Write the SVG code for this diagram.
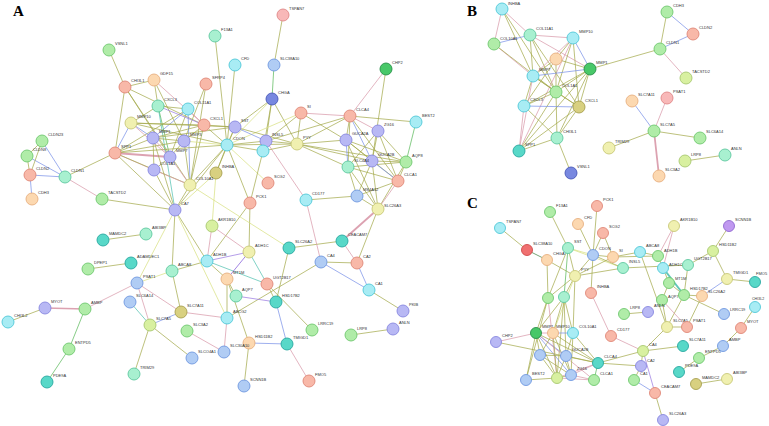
<svg xmlns="http://www.w3.org/2000/svg" width="769" height="426" viewBox="0 0 769 426">
<style>
.c line{stroke-width:.8;stroke-opacity:.9;stroke-linecap:round}
.o{stroke:#a3a84a}
.p{stroke:#d898a8;stroke-width:1.1}
.b{stroke:#7890e8;stroke-width:1.6}
.g{stroke:#58b858;stroke-width:1.6}
.v{stroke:#9878e0;stroke-width:1.8}
.t{stroke:#50c0b0;stroke-width:1.2}
.y{stroke:#d8e080;stroke-width:.6}
circle{stroke-width:.9}
.gr{fill:#b0eca8;stroke:#70c870}
.mi{fill:#a8f0d0;stroke:#60c8a0}
.cy{fill:#a8ecf4;stroke:#50c8d8}
.sa{fill:#f8b8a8;stroke:#e08878}
.pe{fill:#fcd8b0;stroke:#e8b080}
.ye{fill:#f0f0b0;stroke:#c8c878}
.pu{fill:#b8b8f4;stroke:#8888e0}
.bl{fill:#b0ccf4;stroke:#7098e0}
.db{fill:#7888e0;stroke:#4858b8}
.dg{fill:#48c868;stroke:#289048}
.te{fill:#58d8c8;stroke:#28a8a0}
.ol{fill:#d8d080;stroke:#a8a050}
.rd{fill:#f07070;stroke:#d04848}
.pk{fill:#f8b8b8;stroke:#e08888}
.yg{fill:#d8f0a0;stroke:#a8c870}
.mg{fill:#c098f0;stroke:#9068d0}
.l{font-family:"Liberation Sans",Arial,sans-serif;font-size:4px;fill:#333}
.h{font-family:"Liberation Serif","Times New Roman",serif;font-weight:bold;font-size:15px;fill:#000}
</style>
<rect width="769" height="426" fill="#fff"/>
<text class="h" x="13" y="16">A</text>
<text class="h" x="467" y="16">B</text>
<text class="h" x="467" y="208">C</text>
<g id="connectors" class="c">
<line class="o" x1="109" y1="50" x2="125" y2="87"/>
<line class="o" x1="125" y1="87" x2="154" y2="80"/>
<line class="o" x1="125" y1="87" x2="115" y2="153"/>
<line class="o" x1="125" y1="87" x2="170" y2="157"/>
<line class="o" x1="125" y1="87" x2="204" y2="125"/>
<line class="o" x1="125" y1="87" x2="190" y2="185"/>
<line class="p" x1="154" y1="80" x2="204" y2="125"/>
<line class="o" x1="154" y1="80" x2="184" y2="141"/>
<line class="o" x1="154" y1="80" x2="158" y2="106"/>
<line class="o" x1="215" y1="36" x2="227" y2="145"/>
<line class="o" x1="235" y1="65" x2="227" y2="145"/>
<line class="o" x1="206" y1="84" x2="184" y2="141"/>
<line class="o" x1="206" y1="84" x2="190" y2="185"/>
<line class="o" x1="283" y1="15" x2="274" y2="65"/>
<line class="g" x1="274" y1="65" x2="272" y2="99"/>
<line class="o" x1="272" y1="99" x2="235" y2="127"/>
<line class="o" x1="272" y1="99" x2="266" y2="141"/>
<line class="o" x1="272" y1="99" x2="263" y2="151"/>
<line class="o" x1="272" y1="99" x2="297" y2="144"/>
<line class="y" x1="272" y1="99" x2="227" y2="145"/>
<line class="p" x1="386" y1="69" x2="350" y2="116"/>
<line class="o" x1="386" y1="69" x2="372" y2="161"/>
<line class="p" x1="188" y1="109" x2="204" y2="125"/>
<line class="b" x1="188" y1="109" x2="153" y2="138"/>
<line class="o" x1="188" y1="109" x2="158" y2="106"/>
<line class="b" x1="188" y1="109" x2="190" y2="185"/>
<line class="o" x1="188" y1="109" x2="115" y2="153"/>
<line class="o" x1="188" y1="109" x2="170" y2="157"/>
<line class="g" x1="158" y1="106" x2="170" y2="157"/>
<line class="v" x1="158" y1="106" x2="204" y2="125"/>
<line class="o" x1="158" y1="106" x2="131" y2="123"/>
<line class="t" x1="158" y1="106" x2="175" y2="210"/>
<line class="b" x1="131" y1="123" x2="115" y2="153"/>
<line class="b" x1="131" y1="123" x2="153" y2="138"/>
<line class="p" x1="131" y1="123" x2="170" y2="157"/>
<line class="o" x1="131" y1="123" x2="204" y2="125"/>
<line class="o" x1="131" y1="123" x2="235" y2="127"/>
<line class="o" x1="131" y1="123" x2="227" y2="145"/>
<line class="o" x1="115" y1="153" x2="153" y2="138"/>
<line class="o" x1="115" y1="153" x2="184" y2="141"/>
<line class="p" x1="115" y1="153" x2="170" y2="157" style="stroke-width:2"/>
<line class="p" x1="115" y1="153" x2="154" y2="170"/>
<line class="o" x1="115" y1="153" x2="65" y2="177"/>
<line class="o" x1="115" y1="153" x2="175" y2="210"/>
<line class="o" x1="115" y1="153" x2="190" y2="185"/>
<line class="o" x1="115" y1="153" x2="227" y2="145"/>
<line class="o" x1="153" y1="138" x2="184" y2="141"/>
<line class="p" x1="153" y1="138" x2="170" y2="157"/>
<line class="o" x1="153" y1="138" x2="154" y2="170"/>
<line class="o" x1="153" y1="138" x2="204" y2="125"/>
<line class="o" x1="153" y1="138" x2="235" y2="127"/>
<line class="o" x1="184" y1="141" x2="170" y2="157"/>
<line class="o" x1="184" y1="141" x2="204" y2="125"/>
<line class="y" x1="184" y1="141" x2="227" y2="145"/>
<line class="o" x1="184" y1="141" x2="190" y2="185"/>
<line class="o" x1="170" y1="157" x2="154" y2="170"/>
<line class="p" x1="170" y1="157" x2="190" y2="185"/>
<line class="p" x1="154" y1="170" x2="190" y2="185"/>
<line class="o" x1="154" y1="170" x2="175" y2="210"/>
<line class="o" x1="204" y1="125" x2="235" y2="127"/>
<line class="o" x1="204" y1="125" x2="227" y2="145"/>
<line class="o" x1="204" y1="125" x2="190" y2="185"/>
<line class="o" x1="227" y1="145" x2="235" y2="127"/>
<line class="o" x1="227" y1="145" x2="266" y2="141"/>
<line class="o" x1="227" y1="145" x2="263" y2="151"/>
<line class="o" x1="227" y1="145" x2="297" y2="144"/>
<line class="o" x1="227" y1="145" x2="250" y2="203"/>
<line class="o" x1="227" y1="145" x2="216" y2="173"/>
<line class="o" x1="227" y1="145" x2="190" y2="185"/>
<line class="o" x1="227" y1="145" x2="175" y2="210"/>
<line class="y" x1="227" y1="145" x2="301" y2="113"/>
<line class="y" x1="227" y1="145" x2="268" y2="183"/>
<line class="b" x1="235" y1="127" x2="266" y2="141"/>
<line class="o" x1="235" y1="127" x2="297" y2="144"/>
<line class="o" x1="266" y1="141" x2="263" y2="151"/>
<line class="o" x1="266" y1="141" x2="297" y2="144"/>
<line class="o" x1="266" y1="141" x2="301" y2="113"/>
<line class="p" x1="266" y1="141" x2="306" y2="200"/>
<line class="o" x1="266" y1="141" x2="350" y2="116"/>
<line class="o" x1="263" y1="151" x2="297" y2="144"/>
<line class="o" x1="263" y1="151" x2="250" y2="203"/>
<line class="o" x1="297" y1="144" x2="301" y2="113"/>
<line class="o" x1="297" y1="144" x2="350" y2="116"/>
<line class="o" x1="297" y1="144" x2="346" y2="140"/>
<line class="o" x1="297" y1="144" x2="406" y2="162"/>
<line class="o" x1="297" y1="144" x2="372" y2="161"/>
<line class="o" x1="297" y1="144" x2="348" y2="167"/>
<line class="p" x1="301" y1="113" x2="350" y2="116"/>
<line class="o" x1="301" y1="113" x2="346" y2="140"/>
<line class="p" x1="350" y1="116" x2="378" y2="131"/>
<line class="o" x1="350" y1="116" x2="416" y2="122"/>
<line class="o" x1="350" y1="116" x2="346" y2="140"/>
<line class="b" x1="350" y1="116" x2="372" y2="161"/>
<line class="o" x1="350" y1="116" x2="398" y2="181"/>
<line class="o" x1="350" y1="116" x2="348" y2="167"/>
<line class="o" x1="378" y1="131" x2="406" y2="162"/>
<line class="o" x1="378" y1="131" x2="398" y2="181"/>
<line class="o" x1="378" y1="131" x2="372" y2="161"/>
<line class="o" x1="378" y1="131" x2="348" y2="167"/>
<line class="o" x1="346" y1="140" x2="372" y2="161"/>
<line class="b" x1="346" y1="140" x2="348" y2="167"/>
<line class="o" x1="346" y1="140" x2="398" y2="181"/>
<line class="o" x1="346" y1="140" x2="406" y2="162"/>
<line class="o" x1="346" y1="140" x2="378" y2="209"/>
<line class="o" x1="372" y1="161" x2="406" y2="162"/>
<line class="b" x1="372" y1="161" x2="398" y2="181"/>
<line class="o" x1="372" y1="161" x2="378" y2="209"/>
<line class="o" x1="372" y1="161" x2="357" y2="196"/>
<line class="o" x1="348" y1="167" x2="406" y2="162"/>
<line class="o" x1="348" y1="167" x2="357" y2="196"/>
<line class="o" x1="348" y1="167" x2="378" y2="209"/>
<line class="o" x1="348" y1="167" x2="398" y2="181"/>
<line class="g" x1="416" y1="122" x2="406" y2="162"/>
<line class="o" x1="406" y1="162" x2="398" y2="181"/>
<line class="o" x1="406" y1="162" x2="378" y2="209"/>
<line class="p" x1="398" y1="181" x2="378" y2="209"/>
<line class="o" x1="398" y1="181" x2="357" y2="196"/>
<line class="o" x1="357" y1="196" x2="378" y2="209"/>
<line class="o" x1="306" y1="200" x2="357" y2="196"/>
<line class="p" x1="378" y1="209" x2="342" y2="241" style="stroke-width:1.8"/>
<line class="o" x1="378" y1="209" x2="357" y2="263"/>
<line class="o" x1="342" y1="241" x2="289" y2="248"/>
<line class="p" x1="342" y1="241" x2="357" y2="263"/>
<line class="o" x1="321" y1="262" x2="357" y2="263"/>
<line class="b" x1="321" y1="262" x2="369" y2="290"/>
<line class="b" x1="357" y1="263" x2="369" y2="290"/>
<line class="p" x1="306" y1="200" x2="321" y2="262"/>
<line class="o" x1="321" y1="262" x2="227" y2="318"/>
<line class="o" x1="369" y1="290" x2="403" y2="311"/>
<line class="o" x1="351" y1="335" x2="393" y2="329"/>
<line class="o" x1="250" y1="203" x2="249" y2="252"/>
<line class="o" x1="250" y1="203" x2="207" y2="261"/>
<line class="p" x1="212" y1="226" x2="207" y2="261"/>
<line class="p" x1="212" y1="226" x2="249" y2="252"/>
<line class="y" x1="216" y1="173" x2="212" y2="226"/>
<line class="v" x1="207" y1="261" x2="249" y2="252"/>
<line class="o" x1="207" y1="261" x2="227" y2="279"/>
<line class="t" x1="207" y1="261" x2="267" y2="284"/>
<line class="o" x1="207" y1="261" x2="172" y2="271"/>
<line class="o" x1="207" y1="261" x2="175" y2="210"/>
<line class="v" x1="249" y1="252" x2="227" y2="279" style="stroke-width:1"/>
<line class="t" x1="249" y1="252" x2="267" y2="284"/>
<line class="y" x1="190" y1="185" x2="289" y2="248"/>
<line class="o" x1="289" y1="248" x2="276" y2="302"/>
<line class="o" x1="267" y1="284" x2="276" y2="302"/>
<line class="o" x1="267" y1="284" x2="312" y2="330"/>
<line class="v" x1="236" y1="296" x2="276" y2="302"/>
<line class="o" x1="227" y1="279" x2="236" y2="296"/>
<line class="b" x1="276" y1="302" x2="287" y2="344"/>
<line class="b" x1="249" y1="343" x2="287" y2="344"/>
<line class="o" x1="249" y1="343" x2="244" y2="386"/>
<line class="o" x1="249" y1="343" x2="227" y2="279"/>
<line class="p" x1="287" y1="344" x2="309" y2="381"/>
<line class="o" x1="227" y1="279" x2="227" y2="318"/>
<line class="p" x1="227" y1="318" x2="224" y2="352"/>
<line class="p" x1="227" y1="318" x2="181" y2="312"/>
<line class="b" x1="181" y1="312" x2="150" y2="325"/>
<line class="o" x1="181" y1="312" x2="172" y2="271"/>
<line class="p" x1="181" y1="312" x2="137" y2="283"/>
<line class="p" x1="150" y1="325" x2="137" y2="283"/>
<line class="t" x1="150" y1="325" x2="130" y2="302"/>
<line class="o" x1="150" y1="325" x2="134" y2="374"/>
<line class="o" x1="150" y1="325" x2="192" y2="358"/>
<line class="p" x1="187" y1="331" x2="224" y2="352"/>
<line class="p" x1="137" y1="283" x2="85" y2="309"/>
<line class="y" x1="137" y1="283" x2="172" y2="271"/>
<line class="y" x1="175" y1="210" x2="137" y2="283"/>
<line class="p" x1="85" y1="309" x2="45" y2="308" style="stroke-width:1.6"/>
<line class="o" x1="45" y1="308" x2="8" y2="322"/>
<line class="g" x1="85" y1="309" x2="69" y2="349"/>
<line class="g" x1="69" y1="349" x2="47" y2="382"/>
<line class="o" x1="131" y1="263" x2="88" y2="269"/>
<line class="o" x1="103" y1="240" x2="146" y2="234"/>
<line class="o" x1="172" y1="271" x2="175" y2="210"/>
<line class="b" x1="65" y1="177" x2="42" y2="141"/>
<line class="b" x1="65" y1="177" x2="27" y2="156"/>
<line class="b" x1="65" y1="177" x2="30" y2="175"/>
<line class="o" x1="42" y1="141" x2="27" y2="156"/>
<line class="o" x1="42" y1="141" x2="30" y2="175"/>
<line class="o" x1="27" y1="156" x2="30" y2="175"/>
<line class="b" x1="30" y1="175" x2="32" y2="199"/>
<line class="p" x1="65" y1="177" x2="102" y2="199"/>
<line class="o" x1="102" y1="199" x2="175" y2="210"/>
<line class="o" x1="175" y1="210" x2="190" y2="185"/>
<line class="o" x1="175" y1="210" x2="153" y2="138"/>
<line class="y" x1="175" y1="210" x2="216" y2="173"/>
<line class="o" x1="216" y1="173" x2="235" y2="127"/>
<line class="y" x1="175" y1="210" x2="227" y2="318"/>
<line class="p" x1="502" y1="9" x2="530" y2="35"/>
<line class="p" x1="502" y1="9" x2="494" y2="44"/>
<line class="o" x1="502" y1="9" x2="533" y2="76"/>
<line class="o" x1="502" y1="9" x2="556" y2="92"/>
<line class="b" x1="530" y1="35" x2="494" y2="44"/>
<line class="p" x1="530" y1="35" x2="573" y2="38"/>
<line class="o" x1="530" y1="35" x2="533" y2="76"/>
<line class="o" x1="530" y1="35" x2="556" y2="92"/>
<line class="o" x1="530" y1="35" x2="579" y2="107"/>
<line class="p" x1="530" y1="35" x2="590" y2="69"/>
<line class="p" x1="494" y1="44" x2="533" y2="76"/>
<line class="o" x1="494" y1="44" x2="556" y2="92"/>
<line class="o" x1="573" y1="38" x2="556" y2="59"/>
<line class="b" x1="573" y1="38" x2="590" y2="69"/>
<line class="p" x1="573" y1="38" x2="533" y2="76"/>
<line class="o" x1="573" y1="38" x2="556" y2="92"/>
<line class="o" x1="573" y1="38" x2="579" y2="107"/>
<line class="p" x1="573" y1="38" x2="519" y2="151"/>
<line class="o" x1="556" y1="59" x2="533" y2="76"/>
<line class="o" x1="556" y1="59" x2="590" y2="69"/>
<line class="o" x1="556" y1="59" x2="556" y2="92"/>
<line class="o" x1="556" y1="59" x2="524" y2="106"/>
<line class="b" x1="590" y1="69" x2="533" y2="76"/>
<line class="o" x1="590" y1="69" x2="556" y2="92"/>
<line class="o" x1="590" y1="69" x2="579" y2="107"/>
<line class="o" x1="590" y1="69" x2="524" y2="106"/>
<line class="o" x1="590" y1="69" x2="660" y2="49"/>
<line class="o" x1="590" y1="69" x2="557" y2="138"/>
<line class="o" x1="590" y1="69" x2="519" y2="151"/>
<line class="o" x1="533" y1="76" x2="556" y2="92"/>
<line class="o" x1="533" y1="76" x2="524" y2="106"/>
<line class="o" x1="533" y1="76" x2="579" y2="107"/>
<line class="p" x1="533" y1="76" x2="519" y2="151"/>
<line class="o" x1="556" y1="92" x2="579" y2="107"/>
<line class="o" x1="556" y1="92" x2="524" y2="106"/>
<line class="o" x1="556" y1="92" x2="557" y2="138"/>
<line class="o" x1="556" y1="92" x2="519" y2="151"/>
<line class="b" x1="524" y1="106" x2="579" y2="107"/>
<line class="p" x1="524" y1="106" x2="519" y2="151"/>
<line class="o" x1="524" y1="106" x2="557" y2="138"/>
<line class="o" x1="579" y1="107" x2="519" y2="151"/>
<line class="o" x1="579" y1="107" x2="557" y2="138"/>
<line class="o" x1="557" y1="138" x2="519" y2="151"/>
<line class="o" x1="557" y1="138" x2="571" y2="173"/>
<line class="o" x1="667" y1="12" x2="660" y2="49"/>
<line class="b" x1="667" y1="12" x2="693" y2="34"/>
<line class="b" x1="693" y1="34" x2="660" y2="49"/>
<line class="p" x1="660" y1="49" x2="686" y2="78"/>
<line class="b" x1="632" y1="101" x2="654" y2="131"/>
<line class="p" x1="667" y1="98" x2="654" y2="131"/>
<line class="o" x1="654" y1="131" x2="700" y2="138"/>
<line class="o" x1="654" y1="131" x2="609" y2="148"/>
<line class="p" x1="654" y1="131" x2="659" y2="176" style="stroke-width:1.8"/>
<line class="o" x1="685" y1="161" x2="725" y2="155"/>
<line class="o" x1="500" y1="228" x2="527" y2="250"/>
<line class="g" x1="527" y1="250" x2="547" y2="260" style="stroke:#408040"/>
<line class="o" x1="547" y1="260" x2="575" y2="276"/>
<line class="o" x1="547" y1="260" x2="548" y2="298"/>
<line class="o" x1="550" y1="212" x2="568" y2="248"/>
<line class="o" x1="568" y1="248" x2="575" y2="276"/>
<line class="g" x1="568" y1="248" x2="564" y2="297"/>
<line class="o" x1="568" y1="248" x2="548" y2="298"/>
<line class="y" x1="568" y1="248" x2="593" y2="255"/>
<line class="y" x1="568" y1="248" x2="623" y2="268"/>
<line class="o" x1="597" y1="206" x2="593" y2="255"/>
<line class="o" x1="578" y1="224" x2="593" y2="255"/>
<line class="o" x1="603" y1="233" x2="593" y2="255"/>
<line class="o" x1="603" y1="233" x2="613" y2="257"/>
<line class="o" x1="593" y1="255" x2="613" y2="257"/>
<line class="o" x1="593" y1="255" x2="575" y2="276"/>
<line class="o" x1="593" y1="255" x2="591" y2="293"/>
<line class="o" x1="593" y1="255" x2="623" y2="268"/>
<line class="o" x1="613" y1="257" x2="640" y2="252"/>
<line class="o" x1="613" y1="257" x2="658" y2="256"/>
<line class="o" x1="613" y1="257" x2="575" y2="276"/>
<line class="o" x1="575" y1="276" x2="623" y2="268"/>
<line class="o" x1="575" y1="276" x2="564" y2="297"/>
<line class="o" x1="575" y1="276" x2="548" y2="298"/>
<line class="o" x1="575" y1="276" x2="573" y2="333"/>
<line class="y" x1="575" y1="276" x2="553" y2="333"/>
<line class="p" x1="591" y1="293" x2="611" y2="336"/>
<line class="p" x1="611" y1="336" x2="643" y2="351"/>
<line class="o" x1="640" y1="252" x2="658" y2="256"/>
<line class="o" x1="640" y1="252" x2="667" y2="327"/>
<line class="p" x1="658" y1="256" x2="674" y2="226"/>
<line class="o" x1="658" y1="256" x2="663" y2="268"/>
<line class="p" x1="663" y1="268" x2="674" y2="226"/>
<line class="t" x1="663" y1="268" x2="684" y2="295" style="stroke-width:2"/>
<line class="o" x1="663" y1="268" x2="669" y2="283"/>
<line class="o" x1="623" y1="268" x2="688" y2="265"/>
<line class="o" x1="688" y1="265" x2="713" y2="251"/>
<line class="o" x1="688" y1="265" x2="684" y2="295"/>
<line class="o" x1="729" y1="226" x2="713" y2="251"/>
<line class="o" x1="713" y1="251" x2="727" y2="279"/>
<line class="o" x1="727" y1="279" x2="755" y2="282"/>
<line class="b" x1="727" y1="279" x2="702" y2="296"/>
<line class="o" x1="684" y1="295" x2="702" y2="296"/>
<line class="o" x1="684" y1="295" x2="724" y2="314"/>
<line class="o" x1="684" y1="295" x2="667" y2="327"/>
<line class="o" x1="684" y1="295" x2="669" y2="283"/>
<line class="o" x1="702" y1="296" x2="687" y2="327"/>
<line class="o" x1="669" y1="283" x2="662" y2="300"/>
<line class="p" x1="662" y1="300" x2="687" y2="327"/>
<line class="o" x1="662" y1="300" x2="667" y2="327"/>
<line class="o" x1="667" y1="327" x2="687" y2="327"/>
<line class="o" x1="667" y1="327" x2="643" y2="351"/>
<line class="o" x1="683" y1="346" x2="643" y2="351"/>
<line class="o" x1="643" y1="351" x2="641" y2="366"/>
<line class="o" x1="643" y1="351" x2="598" y2="363"/>
<line class="v" x1="643" y1="351" x2="655" y2="393"/>
<line class="o" x1="641" y1="366" x2="634" y2="380"/>
<line class="o" x1="641" y1="366" x2="598" y2="363"/>
<line class="b" x1="634" y1="380" x2="655" y2="393"/>
<line class="o" x1="655" y1="393" x2="663" y2="420"/>
<line class="o" x1="624" y1="314" x2="648" y2="312"/>
<line class="o" x1="755" y1="307" x2="741" y2="328"/>
<line class="o" x1="741" y1="328" x2="723" y2="346"/>
<line class="o" x1="723" y1="346" x2="699" y2="358"/>
<line class="o" x1="699" y1="358" x2="679" y2="372"/>
<line class="o" x1="696" y1="384" x2="727" y2="379"/>
<line class="o" x1="548" y1="298" x2="536" y2="333"/>
<line class="o" x1="564" y1="297" x2="536" y2="333"/>
<line class="o" x1="564" y1="297" x2="553" y2="333"/>
<line class="o" x1="564" y1="297" x2="557" y2="378"/>
<line class="o" x1="564" y1="297" x2="566" y2="356"/>
<line class="p" x1="548" y1="298" x2="557" y2="378"/>
<line class="o" x1="564" y1="297" x2="573" y2="333"/>
<line class="p" x1="536" y1="333" x2="553" y2="333"/>
<line class="p" x1="536" y1="333" x2="496" y2="342"/>
<line class="o" x1="536" y1="333" x2="540" y2="355"/>
<line class="b" x1="536" y1="333" x2="566" y2="356"/>
<line class="b" x1="536" y1="333" x2="571" y2="375"/>
<line class="o" x1="536" y1="333" x2="557" y2="378"/>
<line class="o" x1="536" y1="333" x2="598" y2="363"/>
<line class="o" x1="536" y1="333" x2="526" y2="380"/>
<line class="p" x1="536" y1="333" x2="594" y2="380"/>
<line class="b" x1="553" y1="333" x2="573" y2="333"/>
<line class="o" x1="553" y1="333" x2="540" y2="355"/>
<line class="o" x1="553" y1="333" x2="571" y2="375"/>
<line class="o" x1="553" y1="333" x2="557" y2="378"/>
<line class="o" x1="553" y1="333" x2="598" y2="363"/>
<line class="o" x1="573" y1="333" x2="566" y2="356"/>
<line class="o" x1="573" y1="333" x2="571" y2="375"/>
<line class="o" x1="573" y1="333" x2="598" y2="363"/>
<line class="o" x1="496" y1="342" x2="598" y2="363"/>
<line class="o" x1="540" y1="355" x2="557" y2="378"/>
<line class="o" x1="540" y1="355" x2="571" y2="375"/>
<line class="o" x1="540" y1="355" x2="566" y2="356"/>
<line class="o" x1="566" y1="356" x2="571" y2="375"/>
<line class="o" x1="566" y1="356" x2="598" y2="363"/>
<line class="o" x1="566" y1="356" x2="557" y2="378"/>
<line class="o" x1="571" y1="375" x2="557" y2="378"/>
<line class="p" x1="571" y1="375" x2="598" y2="363"/>
<line class="p" x1="571" y1="375" x2="594" y2="380"/>
<line class="o" x1="557" y1="378" x2="526" y2="380"/>
<line class="p" x1="557" y1="378" x2="594" y2="380"/>
<line class="p" x1="557" y1="378" x2="598" y2="363"/>
<line class="g" x1="598" y1="363" x2="594" y2="380"/>
<line class="o" x1="548" y1="298" x2="526" y2="380"/>
</g>
<g id="A-VSNL1"><circle class="gr" cx="109" cy="50" r="6"/><text class="l" x="115" y="45">VSNL1</text></g>
<g id="A-F13A1"><circle class="mi" cx="215" cy="36" r="6"/><text class="l" x="221" y="31">F13A1</text></g>
<g id="A-TSPAN7"><circle class="pk" cx="283" cy="15" r="6"/><text class="l" x="289" y="10">TSPAN7</text></g>
<g id="A-CFD"><circle class="cy" cx="235" cy="65" r="6"/><text class="l" x="241" y="60">CFD</text></g>
<g id="A-SLC38A10"><circle class="bl" cx="274" cy="65" r="6"/><text class="l" x="280" y="60">SLC38A10</text></g>
<g id="A-CHGA"><circle class="db" cx="272" cy="99" r="6"/><text class="l" x="278" y="94">CHGA</text></g>
<g id="A-CHP2"><circle class="dg" cx="386" cy="69" r="6"/><text class="l" x="392" y="64">CHP2</text></g>
<g id="A-GDF15"><circle class="pe" cx="154" cy="80" r="6"/><text class="l" x="160" y="75">GDF15</text></g>
<g id="A-CHI3L1"><circle class="sa" cx="125" cy="87" r="6"/><text class="l" x="131" y="82">CHI3L1</text></g>
<g id="A-SFRP4"><circle class="sa" cx="206" cy="84" r="6"/><text class="l" x="212" y="79">SFRP4</text></g>
<g id="A-CXCL3"><circle class="mi" cx="158" cy="106" r="6"/><text class="l" x="164" y="101">CXCL3</text></g>
<g id="A-COL11A1"><circle class="cy" cx="188" cy="109" r="6"/><text class="l" x="194" y="104">COL11A1</text></g>
<g id="A-CXCL1"><circle class="sa" cx="204" cy="125" r="6"/><text class="l" x="210" y="120">CXCL1</text></g>
<g id="A-MMP10"><circle class="ye" cx="131" cy="123" r="6"/><text class="l" x="137" y="118">MMP10</text></g>
<g id="A-SST"><circle class="pu" cx="235" cy="127" r="6"/><text class="l" x="241" y="122">SST</text></g>
<g id="A-MMP1"><circle class="pu" cx="153" cy="138" r="6"/><text class="l" x="159" y="133">MMP1</text></g>
<g id="A-MMP3"><circle class="pu" cx="184" cy="141" r="6"/><text class="l" x="190" y="136">MMP3</text></g>
<g id="A-MMP7"><circle class="pu" cx="170" cy="157" r="6"/><text class="l" x="176" y="152">MMP7</text></g>
<g id="A-COL1A1"><circle class="pu" cx="154" cy="170" r="6"/><text class="l" x="160" y="165">COL1A1</text></g>
<g id="A-SPP1"><circle class="sa" cx="115" cy="153" r="6"/><text class="l" x="121" y="148">SPP1</text></g>
<g id="A-CDON"><circle class="cy" cx="227" cy="145" r="6"/><text class="l" x="233" y="140">CDON</text></g>
<g id="A-INHBA"><circle class="ol" cx="216" cy="173" r="6"/><text class="l" x="222" y="168">INHBA</text></g>
<g id="A-COL10A1"><circle class="ye" cx="190" cy="185" r="6"/><text class="l" x="196" y="180">COL10A1</text></g>
<g id="A-CA7"><circle class="pu" cx="175" cy="210" r="6"/><text class="l" x="181" y="205">CA7</text></g>
<g id="A-CLDN23"><circle class="gr" cx="42" cy="141" r="6"/><text class="l" x="48" y="136">CLDN23</text></g>
<g id="A-CLDN8"><circle class="gr" cx="27" cy="156" r="6"/><text class="l" x="33" y="151">CLDN8</text></g>
<g id="A-CLDN2"><circle class="sa" cx="30" cy="175" r="6"/><text class="l" x="36" y="170">CLDN2</text></g>
<g id="A-CLDN1"><circle class="mi" cx="65" cy="177" r="6"/><text class="l" x="71" y="172">CLDN1</text></g>
<g id="A-CDH3"><circle class="pe" cx="32" cy="199" r="6"/><text class="l" x="38" y="194">CDH3</text></g>
<g id="A-TACSTD2"><circle class="gr" cx="102" cy="199" r="6"/><text class="l" x="108" y="194">TACSTD2</text></g>
<g id="A-INSL5"><circle class="pu" cx="266" cy="141" r="6"/><text class="l" x="272" y="136">INSL5</text></g>
<g id="A-GCG"><circle class="cy" cx="263" cy="151" r="6"/></g>
<g id="A-PYY"><circle class="ye" cx="297" cy="144" r="6"/><text class="l" x="303" y="139">PYY</text></g>
<g id="A-SI"><circle class="sa" cx="301" cy="113" r="6"/><text class="l" x="307" y="108">SI</text></g>
<g id="A-CLCA4"><circle class="sa" cx="350" cy="116" r="6"/><text class="l" x="356" y="111">CLCA4</text></g>
<g id="A-BEST2"><circle class="cy" cx="416" cy="122" r="6"/><text class="l" x="422" y="117">BEST2</text></g>
<g id="A-ZG16"><circle class="pu" cx="378" cy="131" r="6"/><text class="l" x="384" y="126">ZG16</text></g>
<g id="A-GUCA2A"><circle class="pu" cx="346" cy="140" r="6"/><text class="l" x="352" y="135">GUCA2A</text></g>
<g id="A-GUCA2B"><circle class="pu" cx="372" cy="161" r="6"/><text class="l" x="378" y="156">GUCA2B</text></g>
<g id="A-SLC4A4"><circle class="mi" cx="348" cy="167" r="6"/><text class="l" x="354" y="162">SLC4A4</text></g>
<g id="A-AQP8"><circle class="gr" cx="406" cy="162" r="6"/><text class="l" x="412" y="157">AQP8</text></g>
<g id="A-CLCA1"><circle class="sa" cx="398" cy="181" r="6"/><text class="l" x="404" y="176">CLCA1</text></g>
<g id="A-MS4A12"><circle class="bl" cx="357" cy="196" r="6"/><text class="l" x="363" y="191">MS4A12</text></g>
<g id="A-SLC26A3"><circle class="ye" cx="378" cy="209" r="6"/><text class="l" x="384" y="207">SLC26A3</text></g>
<g id="A-CD177"><circle class="cy" cx="306" cy="200" r="6"/><text class="l" x="312" y="195">CD177</text></g>
<g id="A-SCG2"><circle class="sa" cx="268" cy="183" r="6"/><text class="l" x="274" y="178">SCG2</text></g>
<g id="A-PCK1"><circle class="sa" cx="250" cy="203" r="6"/><text class="l" x="256" y="198">PCK1</text></g>
<g id="A-AKR1B10"><circle class="yg" cx="212" cy="226" r="6"/><text class="l" x="218" y="221">AKR1B10</text></g>
<g id="A-ADH1C"><circle class="ye" cx="249" cy="252" r="6"/><text class="l" x="255" y="247">ADH1C</text></g>
<g id="A-SLC26A2"><circle class="te" cx="289" cy="248" r="6"/><text class="l" x="295" y="243">SLC26A2</text></g>
<g id="A-CEACAM7"><circle class="te" cx="342" cy="241" r="6"/><text class="l" x="348" y="236">CEACAM7</text></g>
<g id="A-CA4"><circle class="bl" cx="321" cy="262" r="6"/><text class="l" x="327" y="257">CA4</text></g>
<g id="A-CA2"><circle class="sa" cx="357" cy="263" r="6"/><text class="l" x="363" y="258">CA2</text></g>
<g id="A-CA1"><circle class="cy" cx="369" cy="290" r="6"/><text class="l" x="375" y="285">CA1</text></g>
<g id="A-PKIB"><circle class="pu" cx="403" cy="311" r="6"/><text class="l" x="409" y="306">PKIB</text></g>
<g id="A-ANLN"><circle class="pu" cx="393" cy="329" r="6"/><text class="l" x="399" y="324">ANLN</text></g>
<g id="A-LRP8"><circle class="gr" cx="351" cy="335" r="6"/><text class="l" x="357" y="330">LRP8</text></g>
<g id="A-ADH1B"><circle class="cy" cx="207" cy="261" r="6"/><text class="l" x="213" y="256">ADH1B</text></g>
<g id="A-UGT2B17"><circle class="sa" cx="267" cy="284" r="6"/><text class="l" x="273" y="279">UGT2B17</text></g>
<g id="A-HSD17B2"><circle class="te" cx="276" cy="302" r="6"/><text class="l" x="282" y="297">HSD17B2</text></g>
<g id="A-LRRC19"><circle class="gr" cx="312" cy="330" r="6"/><text class="l" x="318" y="325">LRRC19</text></g>
<g id="A-HSD11B2"><circle class="pe" cx="249" cy="343" r="6"/><text class="l" x="255" y="338">HSD11B2</text></g>
<g id="A-TMIGD1"><circle class="te" cx="287" cy="344" r="6"/><text class="l" x="293" y="339">TMIGD1</text></g>
<g id="A-SCNN1B"><circle class="bl" cx="244" cy="386" r="6"/><text class="l" x="250" y="381">SCNN1B</text></g>
<g id="A-FMO5"><circle class="sa" cx="309" cy="381" r="6"/><text class="l" x="315" y="376">FMO5</text></g>
<g id="A-MT1M"><circle class="pe" cx="227" cy="279" r="6"/><text class="l" x="233" y="274">MT1M</text></g>
<g id="A-AQP7"><circle class="mi" cx="236" cy="296" r="6"/><text class="l" x="242" y="291">AQP7</text></g>
<g id="A-ABCG2"><circle class="cy" cx="227" cy="318" r="6"/><text class="l" x="233" y="313">ABCG2</text></g>
<g id="A-SLC30A10"><circle class="bl" cx="224" cy="352" r="6"/><text class="l" x="230" y="347">SLC30A10</text></g>
<g id="A-SLCO4A1"><circle class="bl" cx="192" cy="358" r="6"/><text class="l" x="198" y="353">SLCO4A1</text></g>
<g id="A-ABCA8"><circle class="mi" cx="172" cy="271" r="6"/><text class="l" x="178" y="266">ABCA8</text></g>
<g id="A-PSAT1"><circle class="bl" cx="137" cy="283" r="6"/><text class="l" x="143" y="278">PSAT1</text></g>
<g id="A-ADAMDEC1"><circle class="te" cx="131" cy="263" r="6"/><text class="l" x="137" y="258">ADAMDEC1</text></g>
<g id="A-DPEP1"><circle class="gr" cx="88" cy="269" r="6"/><text class="l" x="94" y="264">DPEP1</text></g>
<g id="A-MAMDC2"><circle class="te" cx="103" cy="240" r="6"/><text class="l" x="109" y="235">MAMDC2</text></g>
<g id="A-ABI3BP"><circle class="mi" cx="146" cy="234" r="6"/><text class="l" x="152" y="229">ABI3BP</text></g>
<g id="A-SLC6A14"><circle class="bl" cx="130" cy="302" r="6"/><text class="l" x="136" y="297">SLC6A14</text></g>
<g id="A-SLC7A5"><circle class="yg" cx="150" cy="325" r="6"/><text class="l" x="156" y="320">SLC7A5</text></g>
<g id="A-SLC7A11"><circle class="ol" cx="181" cy="312" r="6"/><text class="l" x="187" y="307">SLC7A11</text></g>
<g id="A-SLC3A2"><circle class="gr" cx="187" cy="331" r="6"/><text class="l" x="193" y="326">SLC3A2</text></g>
<g id="A-TRIM29"><circle class="mi" cx="134" cy="374" r="6"/><text class="l" x="140" y="369">TRIM29</text></g>
<g id="A-MYOT"><circle class="pu" cx="45" cy="308" r="6"/><text class="l" x="51" y="303">MYOT</text></g>
<g id="A-CHI3L2"><circle class="cy" cx="8" cy="322" r="6"/><text class="l" x="14" y="317">CHI3L2</text></g>
<g id="A-AMBP"><circle class="gr" cx="85" cy="309" r="6"/><text class="l" x="91" y="304">AMBP</text></g>
<g id="A-ENTPD5"><circle class="gr" cx="69" cy="349" r="6"/><text class="l" x="75" y="344">ENTPD5</text></g>
<g id="A-PDE9A"><circle class="te" cx="47" cy="382" r="6"/><text class="l" x="53" y="377">PDE9A</text></g>
<g id="B-INHBA"><circle class="cy" cx="502" cy="9" r="6"/><text class="l" x="508" y="5">INHBA</text></g>
<g id="B-COL11A1"><circle class="mi" cx="530" cy="35" r="6"/><text class="l" x="536" y="30">COL11A1</text></g>
<g id="B-COL10A1"><circle class="gr" cx="494" cy="44" r="6"/><text class="l" x="500" y="40">COL10A1</text></g>
<g id="B-MMP10"><circle class="cy" cx="573" cy="38" r="6"/><text class="l" x="579" y="33">MMP10</text></g>
<g id="B-MMP3"><circle class="pe" cx="556" cy="59" r="6"/></g>
<g id="B-MMP1"><circle class="dg" cx="590" cy="69" r="6"/><text class="l" x="596" y="64">MMP1</text></g>
<g id="B-MMP7"><circle class="cy" cx="533" cy="76" r="6"/><text class="l" x="539" y="71">MMP7</text></g>
<g id="B-COL1A1"><circle class="gr" cx="556" cy="92" r="6"/><text class="l" x="562" y="87">COL1A1</text></g>
<g id="B-CXCL1"><circle class="ol" cx="579" cy="107" r="6"/><text class="l" x="585" y="102">CXCL1</text></g>
<g id="B-CXCL3"><circle class="cy" cx="524" cy="106" r="6"/><text class="l" x="530" y="101">CXCL3</text></g>
<g id="B-CHI3L1"><circle class="mi" cx="557" cy="138" r="6"/><text class="l" x="563" y="133">CHI3L1</text></g>
<g id="B-SPP1"><circle class="te" cx="519" cy="151" r="6"/><text class="l" x="525" y="146">SPP1</text></g>
<g id="B-VSNL1"><circle class="db" cx="571" cy="173" r="6"/><text class="l" x="577" y="168">VSNL1</text></g>
<g id="B-CDH3"><circle class="gr" cx="667" cy="12" r="6"/><text class="l" x="673" y="7">CDH3</text></g>
<g id="B-CLDN2"><circle class="sa" cx="693" cy="34" r="6"/><text class="l" x="699" y="29">CLDN2</text></g>
<g id="B-CLDN1"><circle class="gr" cx="660" cy="49" r="6"/><text class="l" x="666" y="44">CLDN1</text></g>
<g id="B-TACSTD2"><circle class="yg" cx="686" cy="78" r="6"/><text class="l" x="692" y="73">TACSTD2</text></g>
<g id="B-SLC7A11"><circle class="pe" cx="632" cy="101" r="6"/><text class="l" x="638" y="96">SLC7A11</text></g>
<g id="B-PSAT1"><circle class="pk" cx="667" cy="98" r="6"/><text class="l" x="673" y="93">PSAT1</text></g>
<g id="B-SLC7A5"><circle class="gr" cx="654" cy="131" r="6"/><text class="l" x="660" y="126">SLC7A5</text></g>
<g id="B-SLC6A14"><circle class="gr" cx="700" cy="138" r="6"/><text class="l" x="706" y="133">SLC6A14</text></g>
<g id="B-TRIM29"><circle class="ye" cx="609" cy="148" r="6"/><text class="l" x="615" y="143">TRIM29</text></g>
<g id="B-SLC3A2"><circle class="pe" cx="659" cy="176" r="6"/><text class="l" x="665" y="171">SLC3A2</text></g>
<g id="B-LRP8"><circle class="yg" cx="685" cy="161" r="6"/><text class="l" x="691" y="156">LRP8</text></g>
<g id="B-ANLN"><circle class="mi" cx="725" cy="155" r="6"/><text class="l" x="731" y="150">ANLN</text></g>
<g id="C-TSPAN7"><circle class="cy" cx="500" cy="228" r="5.5"/><text class="l" x="506" y="223">TSPAN7</text></g>
<g id="C-SLC38A10"><circle class="rd" cx="527" cy="250" r="5.5"/><text class="l" x="533" y="245">SLC38A10</text></g>
<g id="C-CHGA"><circle class="pe" cx="547" cy="260" r="5.5"/><text class="l" x="553" y="255">CHGA</text></g>
<g id="C-F13A1"><circle class="gr" cx="550" cy="212" r="5.5"/><text class="l" x="556" y="207">F13A1</text></g>
<g id="C-PCK1"><circle class="sa" cx="597" cy="206" r="5.5"/><text class="l" x="603" y="201">PCK1</text></g>
<g id="C-CFD"><circle class="pe" cx="578" cy="224" r="5.5"/><text class="l" x="584" y="219">CFD</text></g>
<g id="C-SCG2"><circle class="sa" cx="603" cy="233" r="5.5"/><text class="l" x="609" y="228">SCG2</text></g>
<g id="C-SST"><circle class="mi" cx="568" cy="248" r="5.5"/><text class="l" x="574" y="243">SST</text></g>
<g id="C-CDON"><circle class="bl" cx="593" cy="255" r="5.5"/><text class="l" x="599" y="250">CDON</text></g>
<g id="C-SI"><circle class="pe" cx="613" cy="257" r="5.5"/><text class="l" x="619" y="252">SI</text></g>
<g id="C-PYY"><circle class="ye" cx="575" cy="276" r="5.5"/><text class="l" x="581" y="271">PYY</text></g>
<g id="C-INSL5"><circle class="mi" cx="623" cy="268" r="5.5"/><text class="l" x="629" y="263">INSL5</text></g>
<g id="C-INHBA"><circle class="sa" cx="591" cy="293" r="5.5"/><text class="l" x="597" y="288">INHBA</text></g>
<g id="C-CXCL1"><circle class="gr" cx="548" cy="298" r="5.5"/></g>
<g id="C-COL11A1"><circle class="mi" cx="564" cy="297" r="5.5"/></g>
<g id="C-ABCA8"><circle class="cy" cx="640" cy="252" r="5.5"/><text class="l" x="646" y="247">ABCA8</text></g>
<g id="C-ADH1B"><circle class="gr" cx="658" cy="256" r="5.5"/><text class="l" x="664" y="252">ADH1B</text></g>
<g id="C-AKR1B10"><circle class="ye" cx="674" cy="226" r="5.5"/><text class="l" x="680" y="221">AKR1B10</text></g>
<g id="C-ADH1C"><circle class="cy" cx="663" cy="268" r="5.5"/><text class="l" x="669" y="266">ADH1C</text></g>
<g id="C-UGT2B17"><circle class="mi" cx="688" cy="265" r="5.5"/><text class="l" x="694" y="260">UGT2B17</text></g>
<g id="C-SCNN1B"><circle class="mg" cx="729" cy="226" r="5.5"/><text class="l" x="735" y="221">SCNN1B</text></g>
<g id="C-HSD11B2"><circle class="yg" cx="713" cy="251" r="5.5"/><text class="l" x="719" y="246">HSD11B2</text></g>
<g id="C-TMIGD1"><circle class="ye" cx="727" cy="279" r="5.5"/><text class="l" x="733" y="274">TMIGD1</text></g>
<g id="C-FMO5"><circle class="te" cx="755" cy="282" r="5.5"/><text class="l" x="756" y="275">FMO5</text></g>
<g id="C-MT1M"><circle class="gr" cx="669" cy="283" r="5.5"/><text class="l" x="675" y="280">MT1M</text></g>
<g id="C-AQP7"><circle class="gr" cx="662" cy="300" r="5.5"/><text class="l" x="668" y="298">AQP7</text></g>
<g id="C-HSD17B2"><circle class="gr" cx="684" cy="295" r="5.5"/><text class="l" x="690" y="290">HSD17B2</text></g>
<g id="C-SLC26A2"><circle class="pe" cx="702" cy="296" r="5.5"/><text class="l" x="708" y="293">SLC26A2</text></g>
<g id="C-LRRC19"><circle class="bl" cx="724" cy="314" r="5.5"/><text class="l" x="730" y="311">LRRC19</text></g>
<g id="C-LRP8"><circle class="gr" cx="624" cy="314" r="5.5"/><text class="l" x="630" y="309">LRP8</text></g>
<g id="C-ANLN"><circle class="pu" cx="648" cy="312" r="5.5"/><text class="l" x="654" y="307">ANLN</text></g>
<g id="C-CHI3L2"><circle class="cy" cx="755" cy="307" r="5.5"/><text class="l" x="752" y="300" style="font-size:3.6px">CHI3L2</text></g>
<g id="C-MYOT"><circle class="sa" cx="741" cy="328" r="5.5"/><text class="l" x="747" y="323">MYOT</text></g>
<g id="C-AMBP"><circle class="bl" cx="723" cy="346" r="5.5"/><text class="l" x="729" y="341">AMBP</text></g>
<g id="C-ENTPD5"><circle class="gr" cx="699" cy="358" r="5.5"/><text class="l" x="705" y="353">ENTPD5</text></g>
<g id="C-PDE9A"><circle class="te" cx="679" cy="372" r="5.5"/><text class="l" x="685" y="367">PDE9A</text></g>
<g id="C-MAMDC2"><circle class="ol" cx="696" cy="384" r="5.5"/><text class="l" x="702" y="379">MAMDC2</text></g>
<g id="C-ABI3BP"><circle class="ye" cx="727" cy="379" r="5.5"/><text class="l" x="733" y="374">ABI3BP</text></g>
<g id="C-SLC7A5"><circle class="ye" cx="667" cy="327" r="5.5"/><text class="l" x="673" y="322">SLC7A5</text></g>
<g id="C-PSAT1"><circle class="sa" cx="687" cy="327" r="5.5"/><text class="l" x="693" y="322">PSAT1</text></g>
<g id="C-SLC7A11"><circle class="te" cx="683" cy="346" r="5.5"/><text class="l" x="689" y="341">SLC7A11</text></g>
<g id="C-CD177"><circle class="sa" cx="611" cy="336" r="5.5"/><text class="l" x="617" y="331">CD177</text></g>
<g id="C-CA4"><circle class="yg" cx="643" cy="351" r="5.5"/><text class="l" x="649" y="346">CA4</text></g>
<g id="C-CA2"><circle class="pu" cx="641" cy="366" r="5.5"/><text class="l" x="647" y="362">CA2</text></g>
<g id="C-CA1"><circle class="gr" cx="634" cy="380" r="5.5"/><text class="l" x="640" y="375">CA1</text></g>
<g id="C-CEACAM7"><circle class="sa" cx="655" cy="393" r="5.5"/><text class="l" x="661" y="388">CEACAM7</text></g>
<g id="C-SLC26A3"><circle class="pu" cx="663" cy="420" r="5.5"/><text class="l" x="669" y="415">SLC26A3</text></g>
<g id="C-MMP1"><circle class="dg" cx="536" cy="333" r="5.5"/><text class="l" x="542" y="328">MMP1</text></g>
<g id="C-MMP10"><circle class="pe" cx="553" cy="333" r="5.5"/><text class="l" x="556" y="328">MMP10</text></g>
<g id="C-COL10A1"><circle class="cy" cx="573" cy="333" r="5.5"/><text class="l" x="579" y="328">COL10A1</text></g>
<g id="C-CHP2"><circle class="pu" cx="496" cy="342" r="5.5"/><text class="l" x="502" y="337">CHP2</text></g>
<g id="C-GUCA2A"><circle class="bl" cx="540" cy="355" r="5.5"/></g>
<g id="C-GUCA2B"><circle class="bl" cx="566" cy="356" r="5.5"/><text class="l" x="572" y="351">GUCA2B</text></g>
<g id="C-CLCA4"><circle class="te" cx="598" cy="363" r="5.5"/><text class="l" x="604" y="358">CLCA4</text></g>
<g id="C-ZG16"><circle class="bl" cx="571" cy="375" r="5.5"/><text class="l" x="577" y="370">ZG16</text></g>
<g id="C-AQP8"><circle class="yg" cx="557" cy="378" r="5.5"/></g>
<g id="C-CLCA1"><circle class="gr" cx="594" cy="380" r="5.5"/><text class="l" x="600" y="375">CLCA1</text></g>
<g id="C-BEST2"><circle class="bl" cx="526" cy="380" r="5.5"/><text class="l" x="532" y="375">BEST2</text></g>
</svg>
